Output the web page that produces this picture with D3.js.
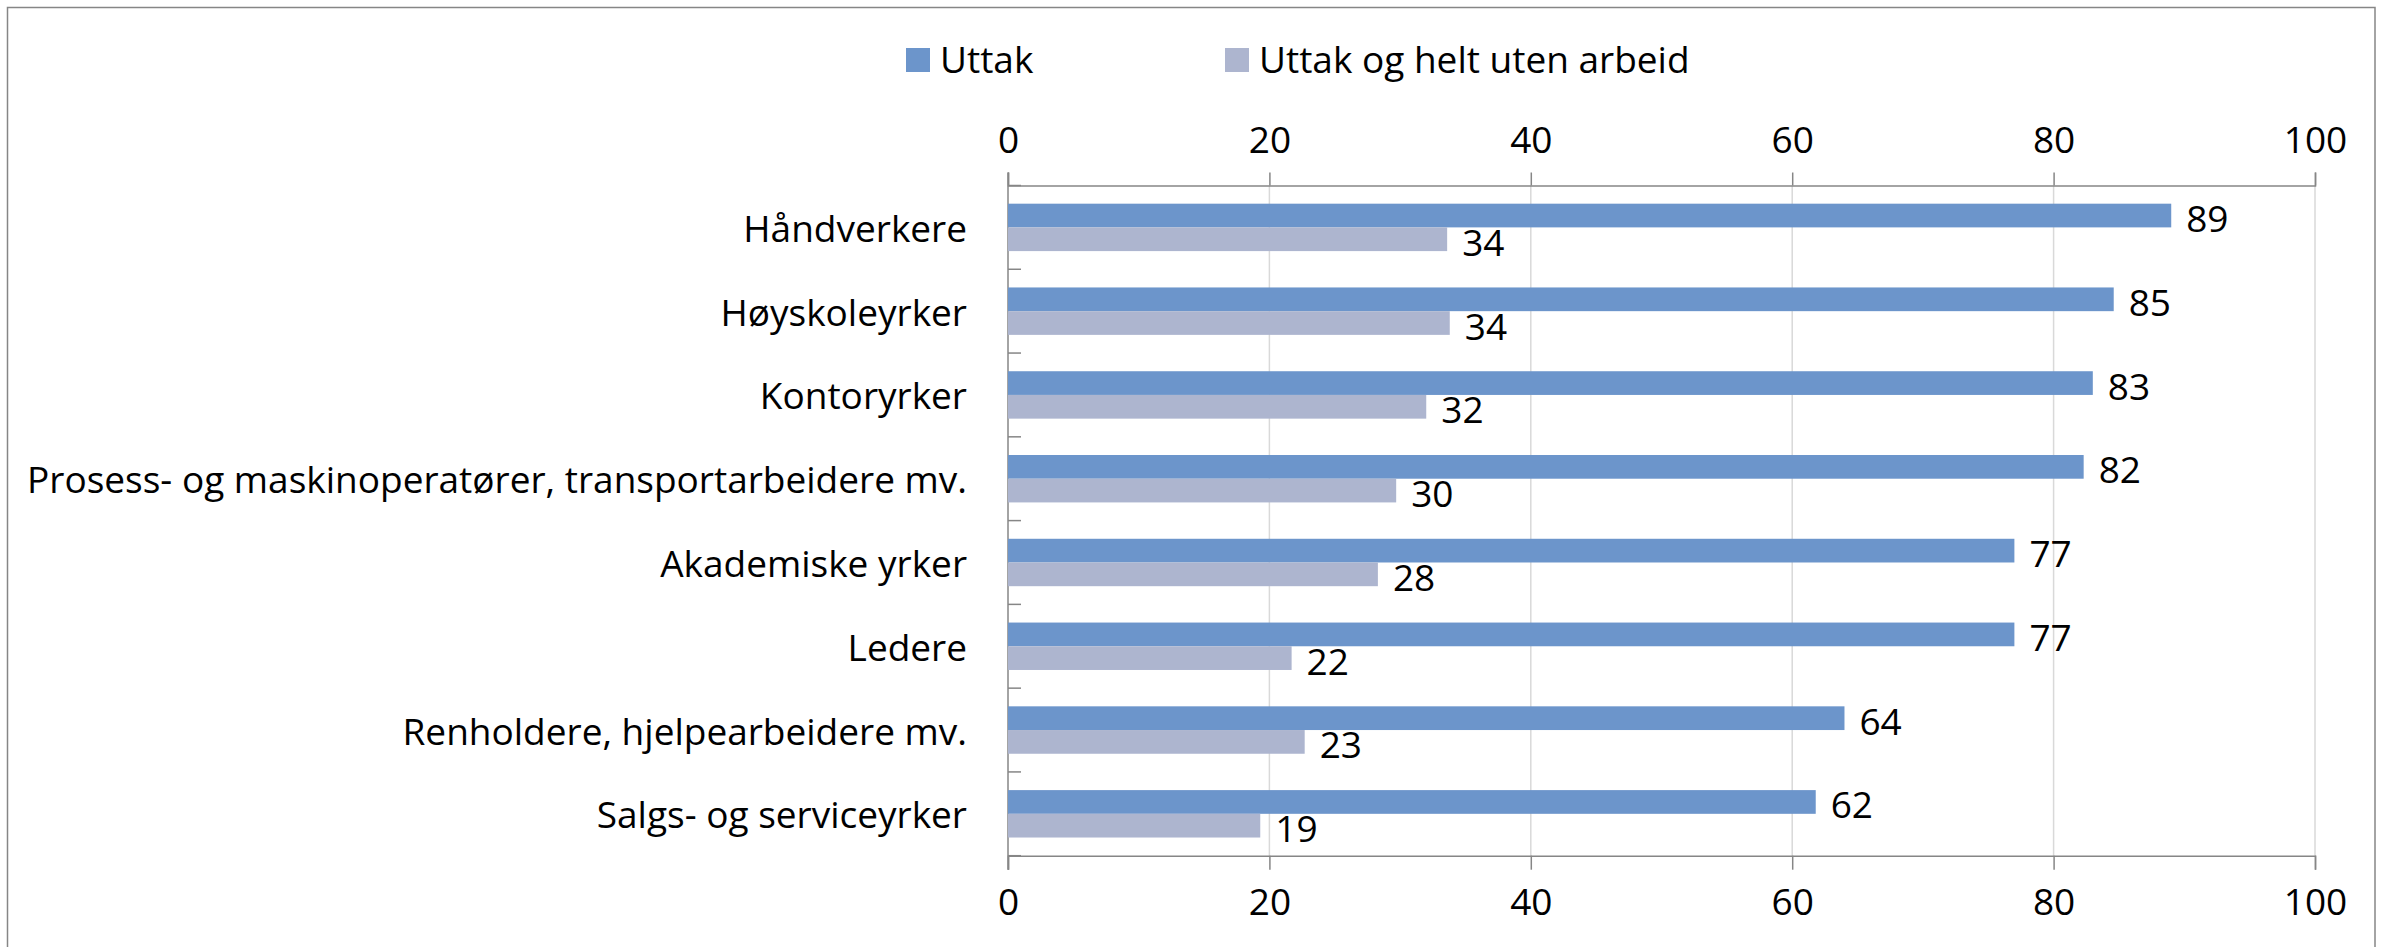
<!DOCTYPE html>
<html>
<head>
<meta charset="utf-8">
<script src="https://cdn.jsdelivr.net/npm/d3@7"></script>
<style>
  body { margin: 0; background: #fff; }
  text { font-family: "Open Sans", Lato, sans-serif; fill: #000; }
</style>
</head>
<body>
<svg></svg>
<script>
// occupations, top to bottom
const categories = [
  "Håndverkere",
  "Høyskoleyrker",
  "Kontoryrker",
  "Prosess- og maskinoperatører, transportarbeidere mv.",
  "Akademiske yrker",
  "Ledere",
  "Renholdere, hjelpearbeidere mv.",
  "Salgs- og serviceyrker"
];
const seriesNames = ["Uttak", "Uttak og helt uten arbeid"];
// bar lengths, labels are shown rounded
const uttak = [89, 84.6, 83, 82.3, 77, 77, 64, 61.8];
const uttakUtenArbeid = [33.6, 33.8, 32, 29.7, 28.3, 21.7, 22.7, 19.3];
const ticks = [0, 20, 40, 60, 80, 100];
const colors = ["#6c95cb", "#adb5cf"];

const width = 2385;
const height = 947;
const fontSize = 37;
const fmt = d3.format(".0f");

const plotLeft = 1008, plotRight = 2315, plotTop = 185.5, plotBottom = 855.7;

let svg = d3.select("svg")
    .attr("width", width)
    .attr("height", height)

// outer chart border
svg.append("rect")
    .attr("x", 7.5).attr("y", 7.5)
    .attr("width", 2375 - 7.5).attr("height", height)
    .attr("fill", "none")
    .attr("stroke", "#868686")
    .attr("stroke-width", 1.5)

const x = d3.scaleLinear().domain([0, 100]).range([plotLeft, plotRight]);
const y = d3.scaleBand().domain(categories).range([plotTop, plotBottom])
    .paddingInner(0.434).paddingOuter(0.217);
const ySub = d3.scaleBand().domain(seriesNames).range([0, y.bandwidth()]);

const rows = categories.map((c, i) => ({cat: c, vals: [uttak[i], uttakUtenArbeid[i]]}));

// gridlines
svg.append("g")
    .selectAll("line")
    .data(ticks.slice(1))
    .join("line")
    .attr("x1", d => x(d)).attr("x2", d => x(d))
    .attr("y1", plotTop).attr("y2", plotBottom)
    .attr("stroke", "#d9d9d9")
    .attr("stroke-width", 1.5)

// top and bottom value axes
const axisTop = d3.axisTop(x).tickValues(ticks).tickSize(13).tickPadding(20);
const axisBottom = d3.axisBottom(x).tickValues(ticks).tickSize(14).tickPadding(19);

function styleAxis(g) {
    g.select(".domain").attr("stroke", "#868686").attr("stroke-width", 1.5);
    g.selectAll(".tick line").attr("stroke", "#868686").attr("stroke-width", 1.5);
    g.selectAll(".tick text")
        .style("font-family", "'Open Sans', Lato, sans-serif")
        .attr("font-size", fontSize)
        .attr("fill", "#000");
}

svg.append("g").attr("transform", `translate(0,${plotTop})`).call(axisTop).call(styleAxis);
svg.append("g").attr("transform", `translate(0,${plotBottom})`).call(axisBottom).call(styleAxis);

// category axis: line, inward ticks at band edges, labels
svg.append("line")
    .attr("x1", plotLeft).attr("x2", plotLeft)
    .attr("y1", plotTop - 13).attr("y2", plotBottom + 14)
    .attr("stroke", "#868686").attr("stroke-width", 1.5)

const edges = d3.range(categories.length + 1).map(i => plotTop + i * y.step());
svg.append("g").selectAll("line")
    .data(edges)
    .join("line")
    .attr("x1", plotLeft).attr("x2", plotLeft + 13)
    .attr("y1", d => d).attr("y2", d => d)
    .attr("stroke", "#868686").attr("stroke-width", 1.5)

svg.append("g").selectAll("text")
    .data(categories)
    .join("text")
    .attr("x", plotLeft - 41)
    .attr("y", d => y(d) + y.bandwidth() / 2)
    .attr("text-anchor", "end")
    .attr("dominant-baseline", "central")
    .attr("font-size", fontSize)
    .text(d => d)

// bars
const groups = svg.append("g").selectAll("g")
    .data(rows)
    .join("g")
    .attr("transform", d => `translate(0,${y(d.cat)})`)

groups.selectAll("rect")
    .data(d => d.vals.map((v, j) => ({v, s: seriesNames[j], j})))
    .join("rect")
    .attr("x", x(0))
    .attr("y", d => ySub(d.s))
    .attr("width", d => x(d.v) - x(0))
    .attr("height", ySub.bandwidth())
    .attr("fill", d => colors[d.j])

groups.selectAll("text")
    .data(d => d.vals.map((v, j) => ({v, s: seriesNames[j], j})))
    .join("text")
    .attr("x", d => x(d.v) + 15)
    .attr("y", d => ySub(d.s) + ySub.bandwidth() / 2 + 2)
    .attr("dominant-baseline", "central")
    .attr("font-size", fontSize)
    .text(d => fmt(d.v))

// legend
const legendX = [906, 1225];
const legend = svg.append("g").selectAll("g")
    .data(seriesNames)
    .join("g")
    .attr("transform", (d, i) => `translate(${legendX[i]},48)`)

legend.append("rect")
    .attr("width", 24).attr("height", 24)
    .attr("fill", (d, i) => colors[i])

legend.append("text")
    .attr("x", 34)
    .attr("y", 25)
    .attr("font-size", fontSize)
    .text(d => d)
</script>
</body>
</html>
